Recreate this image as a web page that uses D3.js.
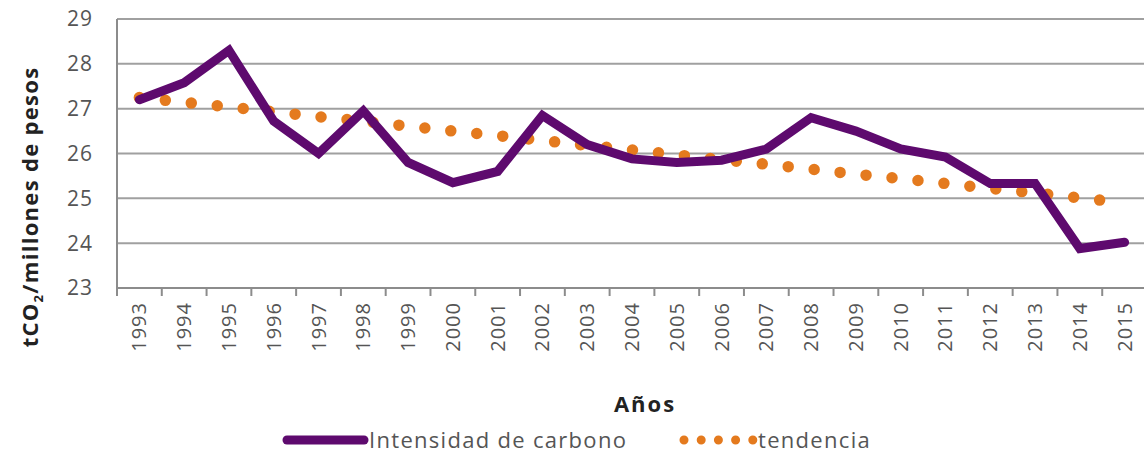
<!DOCTYPE html>
<html>
<head>
<meta charset="utf-8">
<script src="https://d3js.org/d3.v7.min.js"></script>
<style>
  body { margin: 0; background: #fff; }
  text { font-family: 'Open Sans', sans-serif; fill: #555; }
  .grid line { stroke: #a0a0a0; stroke-width: 2px; }
  .axis path, .axis line { stroke: #8c8c8c; stroke-width: 2px; }
</style>
</head>
<body>
<svg id="chart" width="1144" height="455"></svg>
<script>
// data
const years = ["1993","1994","1995","1996","1997","1998","1999","2000","2001","2002","2003","2004",
               "2005","2006","2007","2008","2009","2010","2011","2012","2013","2014","2015"];
const intensidad = [27.2, 27.58, 28.3, 26.72, 26.0, 26.95, 25.8, 25.35, 25.6, 26.85, 26.2, 25.88,
                    25.8, 25.85, 26.1, 26.8, 26.5, 26.1, 25.92, 25.33, 25.33, 23.88, 24.02];
const tendencia = [27.25, 27.14, 27.04, 26.93, 26.82, 26.72, 26.61, 26.5, 26.4, 26.29, 26.18, 26.08,
                   25.97, 25.86, 25.76, 25.65, 25.54, 25.44, 25.33, 25.22, 25.12, 25.01, 24.9];
const yTicks = [23, 24, 25, 26, 27, 28, 29];

const svg = d3.select("#chart");
const margin = { top: 19, left: 117, right: 1147, bottom: 288 };

const x = d3.scaleBand().domain(years).range([margin.left, margin.right]);
const y = d3.scaleLinear().domain([23, 29]).range([margin.bottom, margin.top]);
const cx = d => x(d) + x.bandwidth() / 2;

// gridlines
svg.append("g").attr("class", "grid")
  .selectAll("line").data(yTicks.filter(t => t > 23)).join("line")
  .attr("x1", margin.left).attr("x2", margin.right)
  .attr("y1", d => y(d)).attr("y2", d => y(d));

// y axis line + labels
svg.append("line").attr("x1", margin.left).attr("x2", margin.left)
  .attr("y1", margin.top).attr("y2", margin.bottom)
  .attr("stroke", "#8c8c8c").attr("stroke-width", 2);
svg.append("g").selectAll("text").data(yTicks).join("text")
  .attr("x", 93).attr("y", d => y(d)).attr("dy", "0.35em")
  .attr("text-anchor", "end").style("font-size", "21px").style("letter-spacing", "1px")
  .text(d => d);

// x axis: ticks at category boundaries
const xAxis = svg.append("g").attr("class", "axis")
  .attr("transform", `translate(0,${margin.bottom})`);
xAxis.append("line").attr("x1", margin.left).attr("x2", margin.right);
xAxis.selectAll("line.tick").data(years).join("line").attr("class", "tick")
  .attr("x1", d => x(d)).attr("x2", d => x(d)).attr("y1", 0).attr("y2", 8);
xAxis.selectAll("text").data(years).join("text")
  .attr("transform", d => `translate(${cx(d) + 7},14) rotate(-90)`)
  .attr("text-anchor", "end").style("font-size", "20px").style("letter-spacing", "1px")
  .text(d => d);

// trend (dotted)
const line = d3.line().x((d, i) => cx(years[i])).y(d => y(d));
svg.append("path").datum(tendencia)
  .attr("d", line).attr("fill", "none")
  .attr("stroke", "#E47A1E").attr("stroke-width", 11.5)
  .attr("stroke-linecap", "round").attr("stroke-dasharray", "0,26.1");

// main series
svg.append("path").datum(intensidad)
  .attr("d", line).attr("fill", "none")
  .attr("stroke", "#5E0A6E").attr("stroke-width", 9)
  .attr("stroke-linejoin", "miter").attr("stroke-linecap", "round");

// axis titles
svg.append("text").attr("x", 645).attr("y", 412)
  .attr("text-anchor", "middle").style("font-size", "22px").style("font-weight", "bold")
  .style("letter-spacing", "2px").style("fill", "#222").text("Años");

const yt = svg.append("text")
  .attr("transform", "translate(38,207) rotate(-90)")
  .attr("text-anchor", "middle").style("font-size", "22px").style("font-weight", "bold")
  .style("letter-spacing", "1.3px").style("fill", "#222");
yt.append("tspan").text("tCO");
yt.append("tspan").text("2").style("font-size", "13px").attr("dy", 5);
yt.append("tspan").text("/millones de pesos").attr("dy", -5);

// legend
const lg = svg.append("g");
lg.append("line").attr("x1", 287).attr("x2", 364).attr("y1", 440).attr("y2", 440)
  .attr("stroke", "#5E0A6E").attr("stroke-width", 9).attr("stroke-linecap", "round");
lg.append("text").attr("x", 369).attr("y", 440).attr("dy", "0.35em")
  .style("font-size", "22px").style("letter-spacing", "1.3px").text("Intensidad de carbono");
lg.append("line").attr("x1", 684).attr("x2", 753.5).attr("y1", 440).attr("y2", 440)
  .attr("stroke", "#E47A1E").attr("stroke-width", 9).attr("stroke-linecap", "round")
  .attr("stroke-dasharray", "0,17.2");
lg.append("text").attr("x", 758).attr("y", 440).attr("dy", "0.35em")
  .style("font-size", "22px").style("letter-spacing", "1.3px").text("tendencia");
</script>
</body>
</html>
